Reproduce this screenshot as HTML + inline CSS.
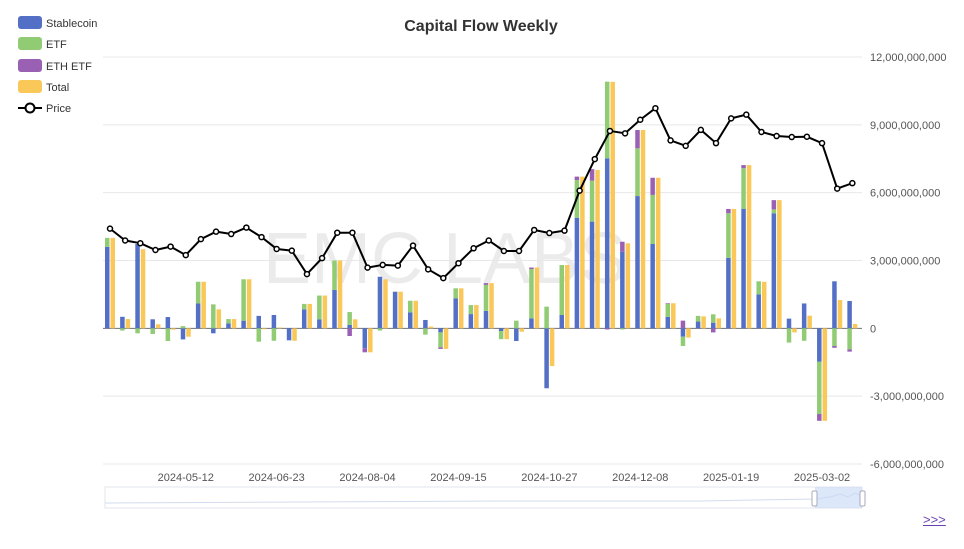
<!DOCTYPE html>
<html><head><meta charset="utf-8"><style>
html,body{margin:0;padding:0;background:#fff;}
body{width:964px;height:544px;overflow:hidden;position:relative;font-family:"Liberation Sans",sans-serif;}
svg text{font-family:"Liberation Sans",sans-serif;}
#more{position:absolute;left:923px;top:512px;font-size:13px;color:#6a3fb0;text-decoration:underline;}
</style></head><body>
<svg id="chart" width="964" height="544" xmlns="http://www.w3.org/2000/svg">
<text x="481" y="31" text-anchor="middle" font-size="16" font-weight="bold" fill="#333">Capital Flow Weekly</text>
<text x="445" y="283" text-anchor="middle" font-size="72" fill="#000" fill-opacity="0.08">EMC LABS</text>
<g id="grid"></g>
<g id="bars"></g>
<g id="price"></g>
<g id="xaxis"></g>
<g>
<rect x="18" y="16" width="24" height="13" rx="3" fill="#5470c6"/>
<text x="46" y="27" font-size="11" fill="#333">Stablecoin</text>
<rect x="18" y="37" width="24" height="13" rx="3" fill="#91cc75"/>
<text x="46" y="48" font-size="11" fill="#333">ETF</text>
<rect x="18" y="59" width="24" height="13" rx="3" fill="#9a60b4"/>
<text x="46" y="70" font-size="11" fill="#333">ETH ETF</text>
<rect x="18" y="80" width="24" height="13" rx="3" fill="#fac858"/>
<text x="46" y="91" font-size="11" fill="#333">Total</text>
<line x1="18" y1="108" x2="42" y2="108" stroke="#000" stroke-width="2"/>
<circle cx="30" cy="108" r="4.5" fill="#fff" stroke="#000" stroke-width="2"/>
<text x="46" y="112" font-size="11" fill="#333">Price</text>
</g>
<g>
<rect x="105" y="487" width="757" height="21" fill="none" stroke="#e3e6ee"/>
<path d="M105 503 L300 502 L500 501 L700 501 L815 499 L830 497 L840 494 L848 497 L855 493 L862 496" fill="none" stroke="#d2dbee"/>
<rect x="815" y="487" width="47" height="21" fill="#c7d7f7" fill-opacity="0.6"/>
<rect x="812" y="491" width="5" height="15" rx="1.5" fill="#fff" stroke="#aab"/>
<rect x="860" y="491" width="5" height="15" rx="1.5" fill="#fff" stroke="#aab"/>
</g>
</svg>
<a id="more">&gt;&gt;&gt;</a>
<script>
const weeks = ["2024-04-07","2024-04-14","2024-04-21","2024-04-28","2024-05-05","2024-05-12","2024-05-19","2024-05-26","2024-06-02","2024-06-09","2024-06-16","2024-06-23","2024-06-30","2024-07-07","2024-07-14","2024-07-21","2024-07-28","2024-08-04","2024-08-11","2024-08-18","2024-08-25","2024-09-01","2024-09-08","2024-09-15","2024-09-22","2024-09-29","2024-10-06","2024-10-13","2024-10-20","2024-10-27","2024-11-03","2024-11-10","2024-11-17","2024-11-24","2024-12-01","2024-12-08","2024-12-15","2024-12-22","2024-12-29","2025-01-05","2025-01-12","2025-01-19","2025-01-26","2025-02-02","2025-02-09","2025-02-16","2025-02-23","2025-03-02","2025-03-09","2025-03-16"];
// values in billions USD
const stablecoin = [3.6,0.51,3.73,0.4,0.5,-0.49,1.1,-0.22,0.22,0.34,0.55,0.59,-0.53,0.84,0.4,1.7,0.15,-0.88,2.28,1.62,0.71,0.37,-0.18,1.33,0.63,0.77,-0.12,-0.56,0.44,-2.65,0.59,4.89,4.72,7.52,3.39,5.85,3.73,0.51,-0.37,0.3,0.25,3.12,5.29,1.5,5.09,0.43,1.1,-1.48,2.08,1.21];
const etf = [0.4,-0.1,-0.22,-0.25,-0.56,0.1,0.96,1.06,0.19,1.83,-0.59,-0.55,0,0.24,1.05,1.3,0.57,0,-0.1,0,0.51,-0.28,-0.66,0.44,0.4,1.15,-0.36,0.34,2.18,0.96,2.21,1.67,1.81,3.39,-0.05,2.11,2.17,0.57,-0.41,0.25,0.37,1.97,1.79,0.58,0.17,-0.63,-0.55,-2.31,-0.78,-0.93];
const ethEtf = [0,0,0,0,0,0,0,0,0,0,0,0,0,0,0,0,-0.34,-0.18,0,0,0,0,-0.07,0,0,0.08,0,0,0.07,0,0,0.15,0.51,-0.05,0.44,0.81,0.76,0.03,0.34,0,-0.18,0.19,0.14,0,0.41,0,0,-0.3,-0.08,-0.1];
const total = [4.0,0.41,3.5,0.18,-0.06,-0.37,2.06,0.84,0.41,2.17,-0.04,0.04,-0.55,1.08,1.45,3.0,0.4,-1.06,2.17,1.62,1.22,0.08,-0.91,1.77,1.03,2.0,-0.48,-0.15,2.69,-1.67,2.8,6.71,7.0,10.9,3.76,8.77,6.66,1.11,-0.41,0.53,0.44,5.28,7.22,2.06,5.67,-0.18,0.56,-4.09,1.25,0.19];
// BTC price, thousands USD
const price = [69.4,65.9,65.1,63.1,64.1,61.6,66.3,68.5,67.8,69.7,66.9,63.4,62.9,56.0,60.7,68.2,68.2,57.9,58.7,58.5,64.4,57.4,54.8,59.2,63.6,65.9,62.8,62.8,69.0,68.1,68.8,80.6,89.9,98.2,97.5,101.5,104.9,95.4,93.8,98.5,94.6,101.9,103.0,97.9,96.7,96.4,96.5,94.6,81.2,82.8];
const yTicks = [12,9,6,3,0,-3,-6];
const yTickLabels = ["12,000,000,000","9,000,000,000","6,000,000,000","3,000,000,000","0","-3,000,000,000","-6,000,000,000"];

const NS="http://www.w3.org/2000/svg";
const X0=110, STEP=15.15, YTOP=57, YBOT=464, VMAX=12, VMIN=-6;
function xs(i){return X0+i*STEP;}
function ys(v){return YTOP+(VMAX-v)/(VMAX-VMIN)*(YBOT-YTOP);}
function yp(p){return YBOT-(p-0)/(120-0)*(YBOT-YTOP);}
function mk(tag,attrs,parent){const e=document.createElementNS(NS,tag);for(const k in attrs)e.setAttribute(k,attrs[k]);parent.appendChild(e);return e;}

const grid=document.getElementById('grid');
yTicks.forEach((t,i)=>{
  const l=mk('line',{x1:103,x2:862,y1:ys(t),y2:ys(t),stroke:t===0?'#6e7079':'#e8e8e8','stroke-width':1},grid);
  
  
  const tx=mk('text',{x:870,y:ys(t)+4,'font-size':11,fill:'#555'},grid);
  tx.textContent=yTickLabels[i];
  
  
});

const bars=document.getElementById('bars');
const series=[[stablecoin,'#5470c6','stablecoin'],[etf,'#91cc75','etf'],[ethEtf,'#9a60b4','eth-etf']];
weeks.forEach((w,i)=>{
  let pos=0,neg=0;
  const bx=xs(i)-5;
  series.forEach(([arr,col,nm])=>{
    const v=arr[i]; if(!v) return;
    let a,b;
    if(v>0){a=pos;b=pos+v;pos=b;}else{a=neg;b=neg+v;neg=b;}
    const y1=ys(Math.max(a,b)), y2=ys(Math.min(a,b));
    const r=mk('rect',{x:bx,y:y1,width:4.5,height:Math.max(y2-y1,0.5),fill:col},bars);
    
    
  });
  const t=total[i];
  const r=mk('rect',{x:xs(i)+0.5,y:ys(Math.max(t,0)),width:4.5,height:Math.max(Math.abs(ys(t)-ys(0)),0.5),fill:'#fac858'},bars);
  
  
});

const pg=document.getElementById('price');
const pl=mk('polyline',{points:price.map((p,i)=>xs(i)+','+yp(p)).join(' '),fill:'none',stroke:'#000','stroke-width':2,'stroke-linejoin':'round'},pg);


price.forEach((p,i)=>{
  const c=mk('circle',{cx:xs(i),cy:yp(p),r:2.5,fill:'#fff',stroke:'#000','stroke-width':1.5},pg);
  
  
});

const xa=document.getElementById('xaxis');
weeks.forEach((w,i)=>{
  if(i%6!==5) return;
  const tx=mk('text',{x:xs(i),y:481,'font-size':11,fill:'#555','text-anchor':'middle'},xa);
  tx.textContent=w;
  
  
});
</script>
</body></html>
